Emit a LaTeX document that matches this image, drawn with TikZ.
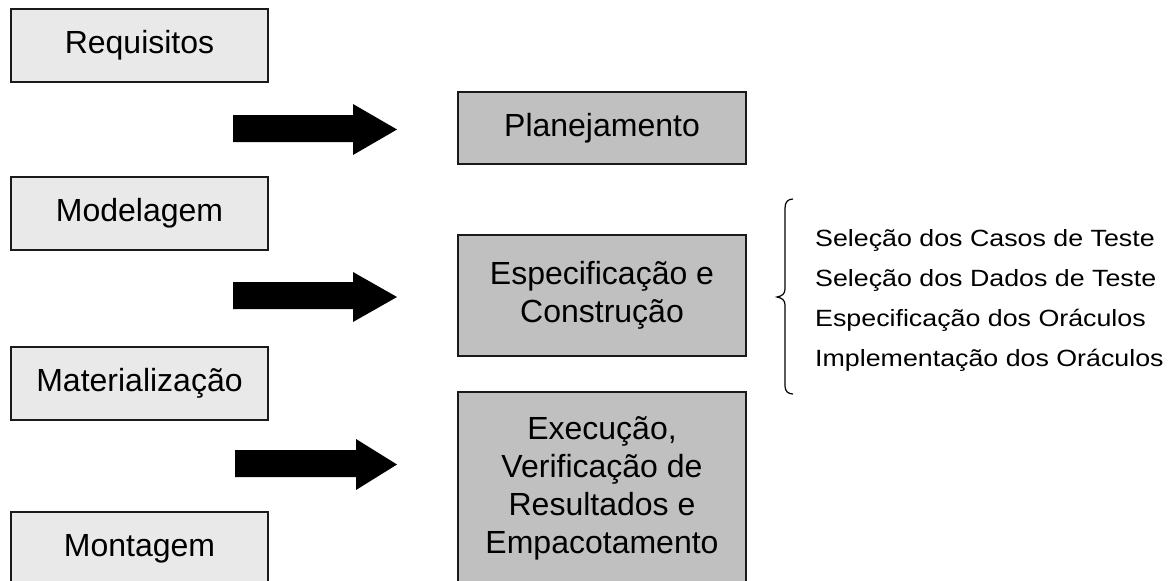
\documentclass[tikz,border=0pt]{standalone}
\usepackage{fontspec}
\setmainfont{Liberation Sans}
\definecolor{lightbox}{HTML}{E9E9E9}
\definecolor{darkbox}{HTML}{C0C0C0}
\definecolor{edge}{HTML}{1A1A1A}
\begin{document}
\begin{tikzpicture}[x=1pt,y=-1pt,
  leftbox/.style={draw=edge,line width=2pt,fill=lightbox,minimum width=257pt,minimum height=73pt,inner sep=0pt,
    font=\fontsize{32}{38}\selectfont},
  rightbox/.style={draw=edge,line width=2pt,fill=darkbox,minimum width=288pt,inner sep=0pt,align=center,
    font=\fontsize{32}{38}\selectfont},
  listitem/.style={anchor=west,inner sep=0pt,font=\fontsize{23.5}{28}\selectfont},
  blockarrow/.style={fill=black}]
\useasboundingbox (0,0) rectangle (1171,581);
\clip (0,0) rectangle (1171,581);
\fill[white] (0,0) rectangle (1171,581);

% left column
\node[leftbox] (req) at (139.5,45.5) {Requisitos};
\node[leftbox] (mod) at (139.5,213) {Modelagem};
\node[leftbox] (mat) at (139.5,383) {Materialização};
\node[leftbox] (mon) at (139.5,548.5) {Montagem};

% right column
\node[rightbox,minimum height=72pt] (plan) at (602,128) {Planejamento};
\node[rightbox,minimum height=121pt] (espec) at (602,295.5) {Especificação e\\Construção};
\node[rightbox,minimum height=192pt] (exec) at (602,488) {Execução,\\Verificação de\\Resultados e\\Empacotamento};

% block arrows
\fill[blockarrow] (233,115) -- (353,115) -- (353,104) -- (397,129.5) -- (353,155) -- (353,142) -- (233,142) -- cycle;
\fill[blockarrow] (233,282) -- (353,282) -- (353,272) -- (397,297) -- (353,322) -- (353,309) -- (233,309) -- cycle;
\fill[blockarrow] (235,450) -- (356,450) -- (356,439) -- (397,464.5) -- (356,490) -- (356,477) -- (235,477) -- cycle;

% brace
\draw[line width=1.2pt,black] (793,199) .. controls (788,199) and (785,202) .. (785,208) -- (785,289)
  .. controls (785,294) and (782,296) .. (777,297)
  .. controls (782,298) and (785,300) .. (785,305) -- (785,386)
  .. controls (785,391) and (788,394) .. (793,394);

% list
\node[listitem] (l1) at (815,240) {\scalebox{1.14}[1]{Seleção dos Casos de Teste}};
\node[listitem] (l2) at (815,280) {\scalebox{1.14}[1]{Seleção dos Dados de Teste}};
\node[listitem] (l3) at (815,320) {\scalebox{1.14}[1]{Especificação dos Oráculos}};
\node[listitem] (l4) at (815,360) {\scalebox{1.14}[1]{Implementação dos Oráculos}};
\end{tikzpicture}
\end{document}
